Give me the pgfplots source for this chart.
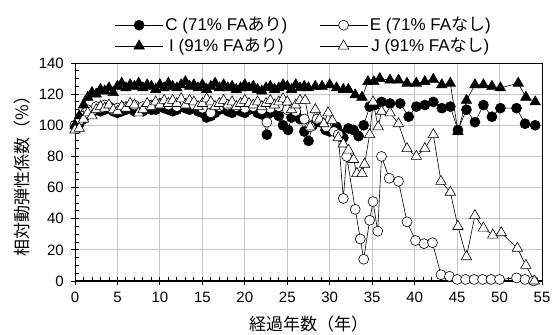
\documentclass[border=0pt]{standalone}
\usepackage{fontspec}
\setmainfont{Liberation Sans}
\newfontfamily\jp{Noto Sans CJK JP}
\usepackage{pgfplots}
\pgfplotsset{compat=1.18}
\begin{document}
\fontsize{15}{18}\selectfont
\begin{tikzpicture}
\path[use as bounding box] (0,0) rectangle (553pt,334pt);
\begin{axis}[
  at={(75pt,53pt)}, anchor=south west, scale only axis,
  width=467pt, height=218pt,
  xmin=0, xmax=55, ymin=0, ymax=140,
  xtick={0,5,...,55}, ytick={0,20,...,140},
  minor x tick num=4, minor y tick num=3,
  xtick pos=bottom, ytick pos=left,
  grid=major, major grid style={black!22, line width=0.9pt},
  tick align=center, major tick length=8pt, minor tick length=4pt,
  tick style={black, line width=0.9pt},
  minor x tick style={yshift=2pt}, minor y tick style={xshift=2pt},
  axis line style={line width=0.7pt},
  /pgf/number format/assume math mode=true,
  ticklabel style={font=\fontsize{15}{18}\selectfont},
  xticklabel style={yshift=-2pt},
  yticklabel style={xshift=-2pt},
  xlabel={\jp 経過年数（年）},
  ylabel={\jp 相対動弾性係数（\%）},
  label style={font=\fontsize{17}{20}\selectfont},
  xlabel style={yshift=-3pt},
  ylabel style={yshift=-2pt},
  legend columns=2,
  legend style={draw=none, fill=none, at={(0.49,1.022)}, anchor=south, font=\fontsize{17}{20}\selectfont, /tikz/every even column/.append style={column sep=30pt}, row sep=1pt},
  legend image code/.code={\draw[mark repeat=2,mark phase=2] plot coordinates {(0pt,0pt) (24pt,0pt) (48pt,0pt)};},
  every axis plot/.append style={black, line width=0.6pt, mark options={line width=0.7pt, solid}},
]
% C
\addplot[mark=*, mark size=5pt, mark options={fill=black}] coordinates {
(0,100)(0.5,101)(1,104)(1.5,107)(2,108)(2.5,110)(3,109)(3.5,110)(4,111)(4.5,109)(5,108)(5.5,109)(6,110)(6.5,111)(7,109)(7.5,110)(8,109)(8.5,111)(9,110)(9.5,110)(10,112)(10.5,111)(11,110)(11.5,109)(12,110)(12.5,112)(13,111)(13.5,110)(14,111)(14.5,109)(15,108)(15.5,105)(16,106)(16.5,108)(17,110)(17.5,111)(18,109)(18.5,108)(19,110)(19.5,109)(20,108)(20.5,110)(21,111)(21.5,108)(22,107)(22.6,94)(23,108)(23.5,109)(24,106)(24.5,100)(25.1,97)(25.5,105)(26,108)(26.5,104)(27,96)(27.5,90)(28,100)(28.5,103)(28.9,102)(29.5,97)(30,96)(30.8,99)(31.2,95)(31.6,92)(32.2,98)(32.8,97)(33.4,93)(34,100)(34.7,112)(35.3,113)(36.1,115)(37.1,114)(38.3,114)(39.3,105.5)(40.2,112)(41.2,113)(42.2,115)(43.2,111)(44.2,112)(45.1,97)(46.1,110)(47.1,102)(48.1,113)(49.1,105.5)(50.1,111)(52,111)(53,101)(54.2,100)
};
\addlegendentry{C (71\% FA{\jp あり})}
% E
\addplot[mark=*, mark size=5pt, mark options={fill=white}] coordinates {
(0,100)(0.5,103)(1,106)(1.5,110)(2,109)(2.5,112)(3,111)(3.5,113)(4,112)(4.5,110)(5,111)(6,112)(7,113)(8,112)(9,113)(10,114)(11,113)(12,112)(13,114)(14,113)(15,111)(16,108)(17,112)(18,113)(19,112)(20,111)(21,112)(22,110)(22.6,102)(23,111)(24,112)(25,110)(26,109)(27,104)(27.7,99)(28.5,104)(29.6,99)(30.5,96)(31,94)(31.6,53)(32,80)(33,46)(33.6,27)(34,14)(34.7,39)(35.1,51)(35.65,32)(36.1,80)(37,66)(38.1,64)(39.1,38)(40.1,26)(41.1,24)(42.1,24.6)(43.1,4)(44.1,3)(45,1)(46,1)(47,1)(48,1)(49,1)(50,1)(52,2)(53,1)(54,0)
};
\addlegendentry{E (71\% FA{\jp なし})}
% I
\addplot[mark=triangle*, mark size=6pt, mark options={fill=black}] coordinates {
(0,100)(0.5,106)(1,113)(1.5,118)(2,121)(2.5,120)(3,123)(3.5,122)(4,124)(4.5,121)(5,125)(5.5,127)(6,124)(6.5,126)(7,125)(7.5,127)(8,124)(8.5,126)(9,125)(9.5,123)(10,126)(10.5,124)(11,127)(11.5,125)(12,124)(12.5,126)(13,128)(13.5,125)(14,126)(14.5,124)(15,126)(15.5,123)(16,125)(16.5,127)(17,124)(17.5,126)(18,124)(18.5,125)(19,123)(19.5,124)(20,126)(20.5,124)(21,125)(21.5,123)(22,122)(22.5,124)(23,125)(23.5,123)(24,124)(24.5,126)(25,125)(25.5,123)(26,126)(26.5,124)(27,125)(27.5,124)(28.3,125)(29.1,125)(30,126)(30.8,124)(31.6,123)(32.2,123)(33,119.5)(33.8,118)(34.5,128)(35.2,128)(35.9,130)(37.1,129)(38.1,129)(39.1,127)(40.2,127)(41.2,128)(42.2,129.5)(43.2,126)(44.2,127)(45.1,96)(46.1,116)(47.1,126)(48.1,126)(49.1,125)(50.1,124)(52.2,127)(53.1,118)(54.2,115)
};
\addlegendentry{I (91\% FA{\jp あり})}
% J
\addplot[mark=triangle*, mark size=6pt, mark options={fill=white}] coordinates {
(0,97)(0.5,98)(1,104)(1.5,108)(2,106)(2.5,110)(3,112)(3.5,111)(4,113)(4.5,110)(5,109)(5.5,112)(6,111)(6.5,114)(7,113)(7.5,108)(8,110)(8.5,114)(9,112)(9.5,115)(10,113)(10.5,116)(11,114)(11.5,116)(12,114)(12.5,117)(13,113)(13.5,116)(14,115)(14.5,112)(15,114)(15.5,117)(16,115)(16.5,112)(17,114)(17.5,116)(18,113)(18.5,115)(19,112)(19.5,114)(20,116)(20.5,114)(21,113)(21.5,115)(22,112)(22.5,114)(23,116)(23.5,113)(24,115)(24.5,117)(25,115)(25.5,110)(26,113)(26.5,116)(27.1,116)(27.7,99)(28.3,110)(28.8,104)(29.3,101)(29.8,108)(30.3,103)(31,92)(31.6,88)(32.2,84)(32.8,78)(33.2,69)(33.8,69)(34.1,75)(34.7,94)(35.1,115)(35.7,99)(36.1,109)(37.1,108)(38.1,101)(39.1,85)(40.2,80)(41.2,85)(42.2,94)(43.1,64)(44.2,57)(45.1,35)(46.1,15.6)(47.1,42)(48.1,34)(49.2,29.5)(50.2,31)(52.1,21)(53.1,10)(54.1,0)
};
\addlegendentry{J (91\% FA{\jp なし})}
\draw[line width=1.4pt] (axis cs:0,0) -- (axis cs:55,0);
\draw[line width=1.4pt] (axis cs:0,0) -- (axis cs:0,140);
\end{axis}
\end{tikzpicture}
\end{document}
